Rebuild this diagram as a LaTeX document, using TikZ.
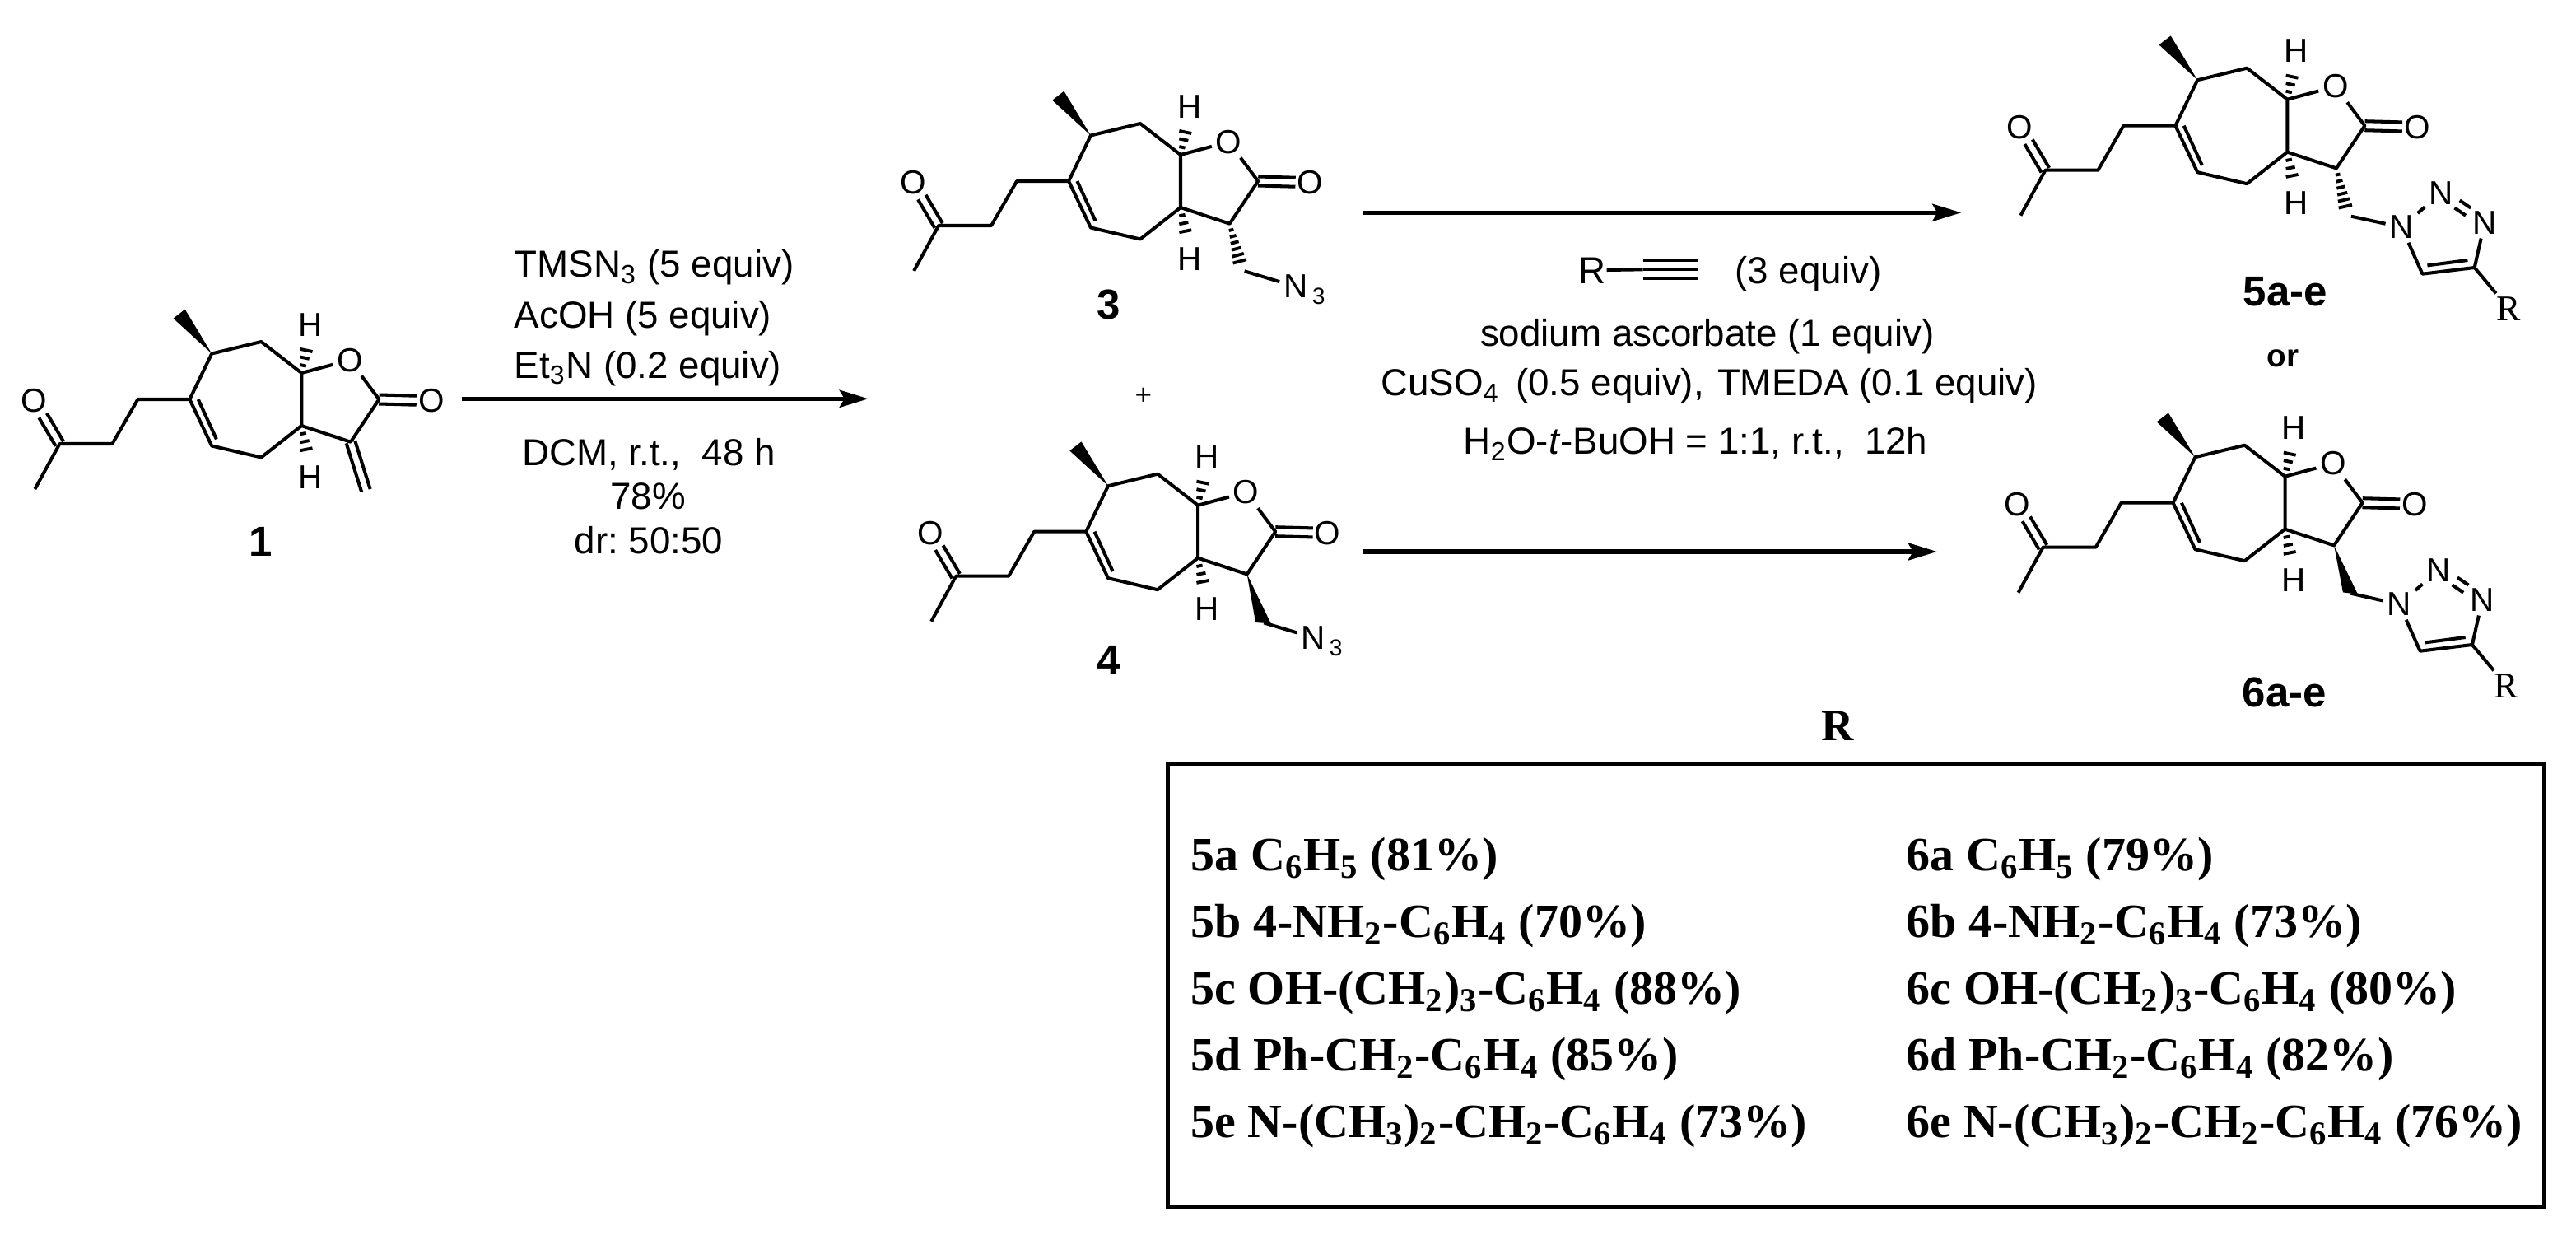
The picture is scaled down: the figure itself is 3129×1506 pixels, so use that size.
\documentclass[tikz,border=0pt]{standalone}
\usepackage{fontspec}
\setmainfont{Liberation Sans}
\newfontfamily\tnr{Liberation Serif}
\usetikzlibrary{calc,arrows.meta}
\frenchspacing
\tikzset{
  bond/.style={line width=1.15pt,line join=round},
  hashline/.style={line width=1.1pt},
  rxn/.style={line width=1.5pt,-{Stealth[length=0.35cm,width=0.21cm,inset=0.06cm]}},
  atom/.style={inner sep=1.2pt,font=\fontsize{11.5}{13}\selectfont},
  atomsub/.style={inner sep=0pt,anchor=base west,font=\fontsize{8}{9}\selectfont},
  rgroup/.style={inner sep=1pt,font=\fontsize{12.5}{14}\selectfont\tnr},
  cmpd/.style={inner sep=0pt,font=\fontsize{14.5}{16}\selectfont\bfseries},
  reagent/.style={inner sep=0pt,font=\fontsize{13}{15}\selectfont},
  entry/.style={inner sep=0pt,anchor=base west,font=\fontsize{16.5}{18}\selectfont\tnr\bfseries}
}
% double bond between two named points
\newcommand{\dbond}[3][]{
  \draw[bond,#1] ($(#2)!0.055cm!90:(#3)$) -- ($(#3)!0.055cm!-90:(#2)$);
  \draw[bond,#1] ($(#2)!0.055cm!-90:(#3)$) -- ($(#3)!0.055cm!90:(#2)$);
}
% hashed bond: from, to, number of stripes
\newcommand{\hashbond}[3]{
  \foreach \i in {1,...,#3}{
    \pgfmathsetmacro\t{\i/#3}
    \pgfmathsetmacro\w{0.5+2.2*\t}
    \coordinate (hm) at ($(#1)!\t!(#2)$);
    \draw[hashline] ($(hm)!\w pt!90:(#2)$) -- ($(hm)!\w pt!-90:(#2)$);
  }
}
% common skeleton: prefix, position of the ring carbon with the side chain
\newcommand{\skeleton}[3]{
  \begin{scope}[shift={(#2,#3)}]
    \coordinate (#1c6) at (0,0);
    \coordinate (#1c7) at (26.8,-55.5);
    \coordinate (#1c8) at (86.9,-70);
    \coordinate (#1c8a) at (135.9,-32);
    \coordinate (#1c3a) at (135.9,32);
    \coordinate (#1c4) at (86.9,70.5);
    \coordinate (#1c5) at (26.8,56.5);
    \coordinate (#1ca) at (-63,0);
    \coordinate (#1cb) at (-94,54);
    \coordinate (#1cc) at (-158,54);
    \coordinate (#1me) at (-188,109);
    \coordinate (#1c2) at (230,0);
    \coordinate (#1c3) at (195.5,51.7);
    \coordinate (#1wa) at (-19.9,-98.3);
    \coordinate (#1wb) at (-5.7,-109.3);
    \coordinate (#1ia) at (10.3,0);
    \coordinate (#1ib) at (32.5,48.3);
    \coordinate (#1ha) at (143.6,-68.7);
    \coordinate (#1hb) at (143.6,70.3);
    \node[atom] (#1ok) at (-189,1.5) {O};
    \node[atom] (#1o1) at (194.4,-47.7) {O};
    \node[atom] (#1ol) at (293.5,1.7) {O};
    \node[atom] (#1h1) at (146.6,-90.7) {H};
    \node[atom] (#1h2) at (146.6,94.3) {H};
  \end{scope}
  \draw[bond] (#1c6) -- (#1c7) -- (#1c8) -- (#1c8a) -- (#1c3a) -- (#1c4) -- (#1c5) -- cycle;
  \draw[bond] (#1ia) -- (#1ib);
  \draw[bond] (#1c6) -- (#1ca) -- (#1cb) -- (#1cc) -- (#1me);
  \dbond[shorten >=0.21cm]{#1cc}{#1ok}
  \draw[bond] (#1c8a) -- (#1o1);
  \draw[bond] (#1o1) -- (#1c2) -- (#1c3) -- (#1c3a);
  \dbond[shorten >=0.18cm]{#1c2}{#1ol}
  \fill (#1c7) -- (#1wa) -- (#1wb) -- cycle;
  \hashbond{#1c8a}{#1ha}{4}
  \hashbond{#1c3a}{#1hb}{4}
}
% triazole ring on the CH2 carbon, R at the end
\newcommand{\triazole}[3]{
  \begin{scope}[shift={(#2,#3)}]
    \node[atom] (#1n1) at (274.7,123.3) {N};
    \node[atom] (#1n2) at (322.4,81.7) {N};
    \node[atom] (#1n3) at (375.5,118) {N};
    \coordinate (#1c4t) at (363.3,172.3);
    \coordinate (#1c5t) at (300,180);
    \coordinate (#1ic) at (306,169.7);
    \coordinate (#1id) at (355,163.3);
    \node[rgroup] (#1r) at (405,222.3) {R};
  \end{scope}
  \draw[bond] (#1ch) -- (#1n1);
  \draw[bond] (#1n1) -- (#1n2);
  \dbond[shorten <=0.24cm,shorten >=0.24cm]{#1n2}{#1n3}
  \draw[bond] (#1n3) -- (#1c4t) -- (#1c5t) -- (#1n1);
  \draw[bond] (#1ic) -- (#1id);
  \draw[bond] (#1c4t) -- (#1r);
}
\begin{document}
\begin{tikzpicture}[x=0.01cm,y=-0.01cm]
\useasboundingbox (0,0) rectangle (3129,1506);
% starting lactone 1
\skeleton{a}{230.4}{485}
\coordinate (ach) at ([shift={(214,110.7)}]ac6);
\dbond{ac3}{ach}
\node[cmpd] (lab1) at (317,657.7) {1};
% first arrow
\coordinate (ar1s) at (560.7,484.3);
\coordinate (ar1e) at (1054.8,484.3);
\draw[rxn] (ar1s) -- (ar1e);
\node[reagent,anchor=base west] (tmsn) at (624,336.7) {TMSN\textsubscript{3} (5 equiv)};
\node[reagent,anchor=base west] (acoh) at (624,398.3) {AcOH (5 equiv)};
\node[reagent,anchor=base west] (etn) at (624,459) {Et\textsubscript{3}N (0.2 equiv)};
\node[reagent,anchor=base] (dcm) at (788,565) {DCM, r.t.,\ \ 48 h};
\node[reagent,anchor=base] (yld) at (787,618) {78\%};
\node[reagent,anchor=base] (dr) at (788,672.7) {dr: 50:50};
% azide 3
\skeleton{b}{1298.1}{220}
\coordinate (bhe) at ([shift={(209.7,105)}]bc6);
\coordinate (bch) at ([shift={(213.5,109.3)}]bc6);
\hashbond{bc3}{bhe}{7}
\node[atom] (bn) at ([shift={(275.5,128)}]bc6) {N};
\node[atomsub] (bn3) at ([yshift=-0.08cm]bn.base east) {3};
\draw[bond] (bch) -- (bn);
\node[cmpd] (lab3) at (1347,370) {3};
\node[inner sep=0pt,font=\fontsize{10}{12}\selectfont] (plus) at (1389,481) {+};
% azide 4
\skeleton{c}{1319.2}{645.7}
\coordinate (cwa) at ([shift={(205.9,110.3)}]cc6);
\coordinate (cwb) at ([shift={(224.6,111.7)}]cc6);
\coordinate (cch) at ([shift={(216,110.7)}]cc6);
\fill (cc3) -- (cwa) -- (cwb) -- cycle;
\node[atom] (cn) at ([shift={(275.5,128.5)}]cc6) {N};
\node[atomsub] (cn3) at ([yshift=-0.08cm]cn.base east) {3};
\draw[bond] (cch) -- (cn);
\node[cmpd] (lab4) at (1347,801.7) {4};
% second step
\coordinate (ar2s) at (1655.3,258.3);
\coordinate (ar2e) at (2382.3,258.3);
\coordinate (ar3s) at (1655.3,670);
\coordinate (ar3e) at (2352.8,670);
\draw[rxn] (ar2s) -- (ar2e);
\draw[rxn] (ar3s) -- (ar3e);
\node[reagent,anchor=base] (alkr) at (1934.4,344) {R};
\coordinate (alka) at (1995.6,327.3);
\coordinate (alkb) at (2062,327.3);
\draw[bond] (alkr) -- (alka);
\draw[bond] (alka) -- (alkb);
\draw[bond] ([yshift=0.11cm]alka) -- ([yshift=0.11cm]alkb);
\draw[bond] ([yshift=-0.11cm]alka) -- ([yshift=-0.11cm]alkb);
\node[reagent,anchor=base west] (alkeq) at (2106.8,344) {(3 equiv)};
\node[reagent,anchor=base] (asc) at (2073.7,420) {sodium ascorbate (1 equiv)};
\node[reagent,anchor=base west] (cuso) at (1676.7,480.7) {CuSO\textsubscript{4}\kern2pt{} (0.5 equiv),\kern1pt{} TMEDA (0.1 equiv)};
\node[reagent,anchor=base] (solv) at (2059.6,551.7) {H\textsubscript{2}O-\textit{t}-BuOH = 1:1, r.t.,\ \ 12h};
% products 5 and 6
\skeleton{d}{2642.4}{152.7}
\coordinate (dhe) at ([shift={(208.2,105.7)}]dc6);
\coordinate (dch) at ([shift={(213.5,110)}]dc6);
\hashbond{dc3}{dhe}{7}
\triazole{d}{2642.4}{152.7}
\node[cmpd] (lab5) at (2776,354) {5a-e};
\node[inner sep=0pt,font=\fontsize{11}{13}\selectfont\bfseries] (lor) at (2773,435) {or};
\skeleton{e}{2639.6}{610.7}
\coordinate (ewa) at ([shift={(206.3,108.7)}]ec6);
\coordinate (ewb) at ([shift={(224.3,111)}]ec6);
\coordinate (ech) at ([shift={(216,110)}]ec6);
\fill (ec3) -- (ewa) -- (ewb) -- cycle;
\triazole{e}{2639.6}{610.7}
\node[cmpd] (lab6) at (2775,840.7) {6a-e};
% table of R groups
\node[rgroup,font=\fontsize{15.5}{17}\selectfont\tnr\bfseries,inner sep=0pt,anchor=base] (rhead) at (2232,899.5) {R};
\draw[line width=1.2pt] (1418.4,928) rectangle (3090.5,1466);
\node[entry] (r5a) at (1446,1057.6) {5a C\textsubscript{6}H\textsubscript{5} (81\%)};
\node[entry] (r5b) at (1446,1138.7) {5b 4-NH\textsubscript{2}-C\textsubscript{6}H\textsubscript{4} (70\%)};
\node[entry] (r5c) at (1446,1219.7) {5c OH-(CH\textsubscript{2})\textsubscript{3}-C\textsubscript{6}H\textsubscript{4} (88\%)};
\node[entry] (r5d) at (1446,1300.7) {5d Ph-CH\textsubscript{2}-C\textsubscript{6}H\textsubscript{4} (85\%)};
\node[entry] (r5e) at (1446,1381.7) {5e N-(CH\textsubscript{3})\textsubscript{2}-CH\textsubscript{2}-C\textsubscript{6}H\textsubscript{4} (73\%)};
\node[entry] (r6a) at (2315,1057.6) {6a C\textsubscript{6}H\textsubscript{5} (79\%)};
\node[entry] (r6b) at (2315,1138.7) {6b 4-NH\textsubscript{2}-C\textsubscript{6}H\textsubscript{4} (73\%)};
\node[entry] (r6c) at (2315,1219.7) {6c OH-(CH\textsubscript{2})\textsubscript{3}-C\textsubscript{6}H\textsubscript{4} (80\%)};
\node[entry] (r6d) at (2315,1300.7) {6d Ph-CH\textsubscript{2}-C\textsubscript{6}H\textsubscript{4} (82\%)};
\node[entry] (r6e) at (2315,1381.7) {6e N-(CH\textsubscript{3})\textsubscript{2}-CH\textsubscript{2}-C\textsubscript{6}H\textsubscript{4} (76\%)};
\end{tikzpicture}
\end{document}
